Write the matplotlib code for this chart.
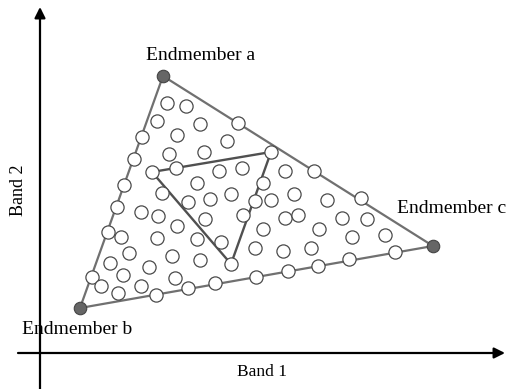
import matplotlib
matplotlib.use('Agg')
import matplotlib.pyplot as plt

plt.rcParams['font.family'] = ['Liberation Serif', 'DejaVu Serif']

# endmembers (outer simplex), band1 / band2 coordinates
end_names = ['Endmember a', 'Endmember b', 'Endmember c']
end_b1 = [123, 40, 393]
end_b2 = [277, 45, 107]

# inner triangle vertices
inner_b1 = [112, 231, 191]
inner_b2 = [181, 201, 89]

# pixel samples (white circles)
pix_b1 = [102, 94, 84, 77, 68, 52,
          198, 274, 321,
          116, 148, 175, 216, 248, 278, 309, 355,
          136, 223, 215, 122,
          127, 146, 117, 160, 137, 187, 129, 164, 179, 202, 245, 157, 148, 170,
          191, 231, 254, 287, 101, 118, 137, 165, 203, 245, 258, 302, 327, 223,
          279, 81, 117, 157, 181, 312, 345, 215, 243, 271, 89, 132, 70, 109,
          160, 83, 135, 61, 78, 101]
pix_b2 = [216, 194, 168, 146, 121, 76,
          230, 182, 155,
          58, 65, 70, 76, 82, 87, 94, 101,
          185, 170, 152, 160,
          250, 247, 232, 229, 218, 212, 199, 201, 182, 185, 182, 170, 151, 154,
          159, 153, 159, 153, 141, 137, 127, 134, 138, 135, 138, 135, 134, 124,
          124, 116, 115, 114, 111, 116, 118, 105, 102, 105, 100, 97, 90, 86,
          93, 78, 75, 67, 60, 67]

fig = plt.figure(figsize=(5.1, 3.89), dpi=100)
ax = fig.add_axes([0, 0, 1, 1])
ax.set_xlim(-40, 470)
ax.set_ylim(-36, 353)
ax.axis('off')

# axes arrows
arrow = dict(arrowstyle='-|>', color='black', lw=1.6, mutation_scale=16,
             shrinkA=0, shrinkB=0)
ax.annotate('', xy=(465, 0), xytext=(-22, 0), arrowprops=arrow)
ax.annotate('', xy=(0, 346), xytext=(0, -36), arrowprops=arrow)
ax.text(222, -19, 'Band 1', ha='center', va='center', fontsize=12.5)
ax.text(-21, 163, 'Band 2', ha='center', va='center', rotation=90, fontsize=13)

# outer triangle
ax.fill(end_b1, end_b2, facecolor='none', edgecolor='#707070', lw=1.6, zorder=2)
# inner triangle
ax.fill(inner_b1, inner_b2, facecolor='none', edgecolor='#505050', lw=1.7, zorder=2)

ax.plot(pix_b1, pix_b2, 'o', ms=9.5, mfc='white', mec='#4a4a4a', mew=0.9,
        ls='none', zorder=3)
ax.plot(inner_b1, inner_b2, 'o', ms=9.5, mfc='white', mec='#4a4a4a', mew=0.9,
        ls='none', zorder=3)
ax.plot(end_b1, end_b2, 'o', ms=9, mfc='#666666', mec='#444444', mew=0.8,
        ls='none', zorder=4)

label_pos = [(161, 298), (37, 24), (412, 145)]
for name, (lx, ly) in zip(end_names, label_pos):
    ax.text(lx, ly, name, ha='center', va='center', fontsize=14)

fig.savefig('out.png', dpi=100)
